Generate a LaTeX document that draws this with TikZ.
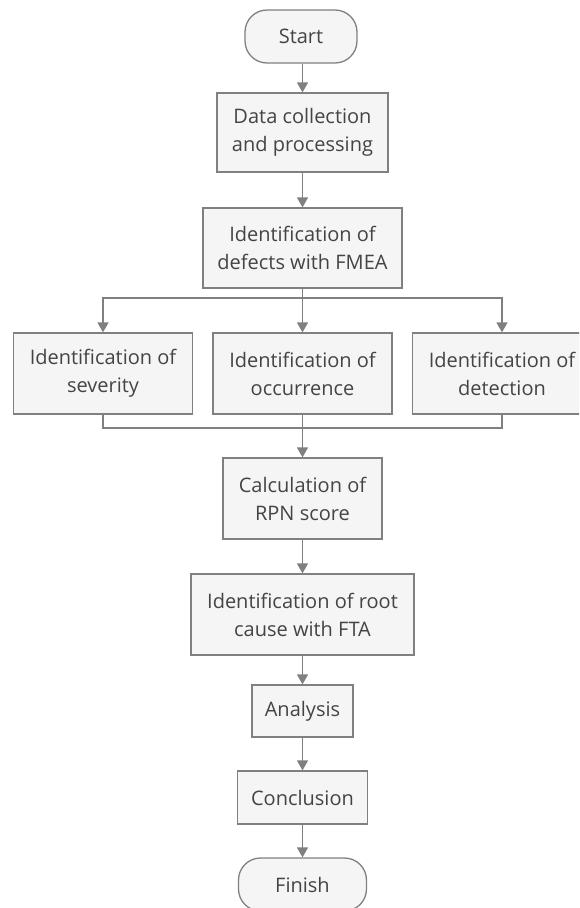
\documentclass[tikz,border=0pt]{standalone}
\usepackage{fontspec}
\setmainfont{Open Sans}
\definecolor{fcgray}{RGB}{128,128,128}
\definecolor{fcfill}{RGB}{245,245,245}
\definecolor{fctext}{RGB}{68,68,68}
\usetikzlibrary{arrows.meta,positioning}

\begin{document}
\begin{tikzpicture}[x=1pt,y=-1pt,font=\fontsize{20}{28}\selectfont,
  box/.style={draw=fcgray,fill=fcfill,line width=1.3pt,text=fctext,align=center,inner sep=0pt},
  term/.style={box,rounded corners=22pt},
  link/.style={draw=fcgray,line width=1.6pt},
  >={Triangle[width=11pt,length=10pt]}]
  \clip (0,0) rectangle (579,908);
  \node[term,minimum width=112,minimum height=53] (start) at (301,36.5) {Start};
  \node[box,minimum width=171,minimum height=79] (data) at (302.5,132.5) {Data collection\\and processing};
  \node[box,minimum width=199,minimum height=80] (fmea) at (302.5,248) {Identification of\\defects with FMEA};
  \foreach \name/\x/\txt in {sev/103/severity, occ/302.5/occurrence, det/502/detection}{
    \node[box,minimum width=179,minimum height=81] (\name) at (\x,373.5) {Identification of\\\txt};
  }
  \node[box,minimum width=159,minimum height=81] (rpn) at (302.5,498.5) {Calculation of\\RPN score};
  \node[box,minimum width=223,minimum height=81] (fta) at (302.5,614.5) {Identification of root\\cause with FTA};
  \node[box,minimum width=101,minimum height=52] (ana) at (302.5,711) {Analysis};
  \node[box,minimum width=130,minimum height=53] (con) at (302.5,797.5) {Conclusion};
  \node[term,minimum width=128,minimum height=53] (fin) at (302.5,884.5) {Finish};
  % split and merge points
  \coordinate (split) at (302.5,298);
  \coordinate (merge) at (302.5,428);
  \draw[link,->] (start.south -| data.north) -- (data);
  \draw[link,->] (data) -- (fmea);
  \draw[link] (fmea) -- (split);
  \draw[link,->] (split) -| (sev);
  \draw[link,->] (split) -- (occ);
  \draw[link,->] (split) -| (det);
  \draw[link] (sev) |- (merge);
  \draw[link] (det) |- (merge);
  \draw[link] (occ) -- (merge);
  \draw[link,->] (merge) -- (rpn);
  \foreach \a/\b in {rpn/fta, fta/ana, ana/con, con/fin}
    \draw[link,->] (\a) -- (\b);
\end{tikzpicture}
\end{document}
